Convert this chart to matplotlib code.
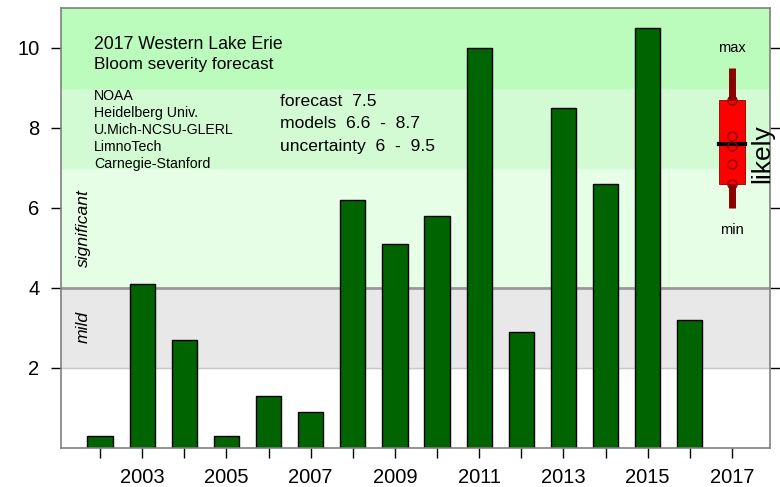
import matplotlib
matplotlib.use("Agg")
import matplotlib.pyplot as plt

plt.rcParams['font.family'] = ['Liberation Sans', 'DejaVu Sans']

# observed bloom severity by year
years = [2002, 2003, 2004, 2005, 2006, 2007, 2008, 2009,
         2010, 2011, 2012, 2013, 2014, 2015, 2016]
severity = [0.3, 4.1, 2.7, 0.3, 1.3, 0.9, 6.2, 5.1,
            5.8, 10.0, 2.9, 8.5, 6.6, 10.5, 3.2]

# 2017 forecast
fc_year = 2017
fc_median = 7.6
fc_box = [6.6, 8.7]
fc_whisk = [6.0, 9.5]
fc_models = [8.7, 7.8, 7.55, 7.1, 6.6]

label_years = [2003, 2005, 2007, 2009, 2011, 2013, 2015, 2017]
orgs = ["NOAA", "Heidelberg Univ.", "U.Mich-NCSU-GLERL", "LimnoTech", "Carnegie-Stanford"]
stats = ["forecast  7.5", "models  6.6  -  8.7", "uncertainty  6  -  9.5"]

fig = plt.figure(figsize=(7.8, 4.87), dpi=100)
ax = fig.add_axes([0.078, 0.081, 0.909, 0.903])
ax.set_xlim(2001.07, 2017.9)
ax.set_ylim(0, 11)

# severity bands
ax.axhspan(2, 4, color='#e8e8e8', zorder=0)
ax.axhspan(4, 7, color='#e6fde6', zorder=0)
ax.axhspan(7, 9, color='#d3fbd3', zorder=0)
ax.axhspan(9, 11, color='#bbfbbb', zorder=0)
ax.axhline(2, color='#c8c8c8', lw=1, zorder=1)
ax.axhline(4, color='#999999', lw=2, zorder=1)

ax.bar(years, severity, width=0.6, color='#006400', edgecolor='black', lw=1, zorder=2)

# forecast box
ax.plot([fc_year, fc_year], fc_whisk, color='#8b0000', lw=5, solid_capstyle='butt', zorder=3)
ax.bar([fc_year], [fc_box[1] - fc_box[0]], bottom=fc_box[0], width=0.63,
       color='#ff0000', edgecolor='#8b0000', lw=0.6, zorder=4)
ax.plot([fc_year - 0.3, fc_year + 0.3], [fc_median, fc_median], color='black', lw=3, zorder=5)
ax.plot([fc_year] * len(fc_models), fc_models, 'o', mfc='none', mec='#8b0000',
        ms=6.5, mew=1, zorder=6)
ax.text(fc_year, 9.99, "max", ha='center', va='center', fontsize=10.5)
ax.text(fc_year, 5.44, "min", ha='center', va='center', fontsize=10.5)
ax.text(2017.72, 7.36, "likely", rotation=90, ha='center', va='center', fontsize=19)

# titles and notes
ax.text(2001.86, 10.08, "2017 Western Lake Erie", ha='left', va='center', fontsize=12.7)
ax.text(2001.86, 9.58, "Bloom severity forecast", ha='left', va='center', fontsize=12.4)
for i, name in enumerate(orgs):
    ax.text(2001.86, 8.79 - i * 0.425, name, ha='left', va='center', fontsize=10.2)
for i, s in enumerate(stats):
    ax.text(2006.27, 8.66 - i * 0.56, s, ha='left', va='center', fontsize=12.6)
ax.text(2001.6, 5.49, "significant", rotation=90, style='italic', ha='center', va='center', fontsize=12.6)
ax.text(2001.6, 3.02, "mild", rotation=90, style='italic', ha='center', va='center', fontsize=12.6)

all_years = years + [fc_year]
ax.set_xticks(all_years)
ax.set_xticklabels([str(y) if y in label_years else "" for y in all_years])
ax.set_yticks([2, 4, 6, 8, 10])
ax.tick_params(axis='both', direction='out', length=7.3, width=1, labelsize=14.5, pad=8)
ax.tick_params(axis='x', pad=7.5)
ax.tick_params(axis='y', right=True)
# unlabeled years get a lighter tick
for y, tk in zip(all_years, ax.xaxis.get_major_ticks()):
    if y not in label_years:
        tk.tick1line.set_color('#777777')
for sp in ax.spines.values():
    sp.set_color('#808080')
    sp.set_linewidth(1.2)

fig.savefig("out.png", dpi=100)
